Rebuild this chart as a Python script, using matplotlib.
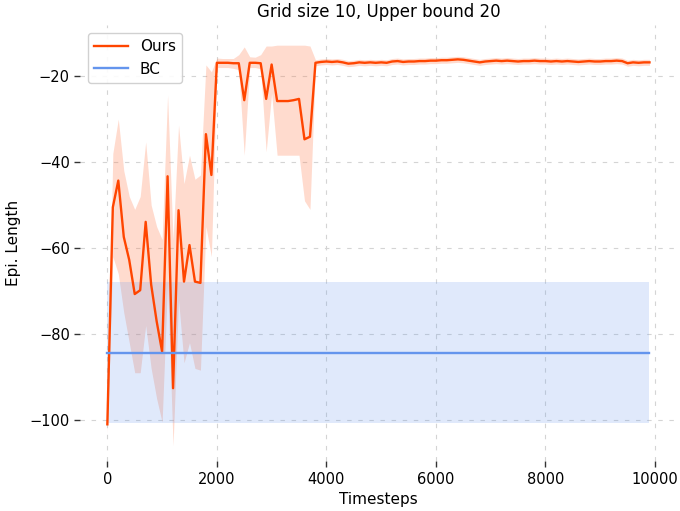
import matplotlib
matplotlib.use("Agg")
import matplotlib.pyplot as plt

# Ours: one record every 100 timesteps, 0 .. 9900
steps = list(range(0, 10000, 100))

ours_mean = [
    -101.0, -50.5, -44.3, -57.4, -62.8, -70.7, -69.8, -53.9, -68.5, -77.0,
    -84.1, -43.3, -92.6, -51.2, -67.8, -59.3, -67.8, -68.1, -33.5, -43.0,
    -16.9, -16.9, -16.9, -17.0, -17.0, -25.6, -16.9, -16.9, -17.0, -25.3,
    -17.3, -25.8, -25.8, -25.8, -25.6, -25.3, -34.7, -34.1, -16.9, -16.7,
    -16.6, -16.7, -16.6, -16.8, -17.1, -17.0, -16.8, -16.9, -16.8, -16.9,
    -16.8, -16.9, -16.6, -16.5, -16.7, -16.6, -16.6, -16.5, -16.5, -16.4,
    -16.4, -16.3, -16.3, -16.2, -16.1, -16.2, -16.4, -16.6, -16.8, -16.6,
    -16.5, -16.4, -16.5, -16.4, -16.5, -16.6, -16.5, -16.5, -16.4, -16.5,
    -16.5, -16.6, -16.5, -16.6, -16.5, -16.6, -16.7, -16.6, -16.5, -16.6,
    -16.6, -16.5, -16.5, -16.4, -16.5, -17.0, -16.8, -16.9, -16.8, -16.8,
]

# shaded range for the first 38 records (0 .. 3700)
early_hi = [
    -99.0, -38.0, -30.0, -42.0, -48.0, -51.0, -48.0, -35.3, -50.0, -55.0,
    -58.0, -24.4, -58.0, -31.4, -45.0, -38.4, -44.0, -43.0, -17.4, -19.0,
    -15.8, -15.9, -15.9, -15.9, -15.0, -13.2, -15.5, -15.6, -15.0, -13.0,
    -13.0, -12.8, -12.8, -12.8, -12.8, -12.8, -12.8, -13.0,
]
early_lo = [
    -103.0, -62.0, -66.0, -75.0, -82.0, -89.0, -89.0, -78.0, -88.0, -95.0,
    -100.5, -68.0, -106.0, -72.0, -86.7, -82.0, -88.0, -88.4, -55.0, -62.0,
    -18.0, -18.0, -18.0, -18.2, -18.5, -38.4, -18.0, -18.0, -18.3, -37.6,
    -24.0, -38.4, -38.4, -38.4, -38.4, -38.4, -49.0, -51.0,
]
late_halfwidth = 0.7

bc_steps = [0, 9900]
bc_mean = [-84.3, -84.3]
bc_hi = [-67.9, -67.9]
bc_lo = [-100.7, -100.7]

n_early = len(early_hi)
ours_hi = early_hi + [m + late_halfwidth for m in ours_mean[n_early:]]
ours_lo = early_lo + [m - late_halfwidth for m in ours_mean[n_early:]]

fig = plt.figure(figsize=(6.8, 5.11), dpi=100)
ax = fig.add_axes([0.118, 0.0973, 0.877, 0.853])

ax.fill_between(steps, ours_lo, ours_hi, color="#FF7F50", alpha=0.28, lw=0)
ax.plot(steps, ours_mean, color="#FF4500", lw=1.7, label="Ours")
ax.fill_between(bc_steps, bc_lo, bc_hi, color="#6495ED", alpha=0.2, lw=0)
ax.plot(bc_steps, bc_mean, color="#6495ED", lw=1.7, label="BC")

ax.set_xticks([0, 2000, 4000, 6000, 8000, 10000])
ax.set_yticks([-100, -80, -60, -40, -20])
ax.set_ylim(-109.6, -8.2)
ax.grid(True, ls=(0, (4, 6)), color="#d4d4d4", lw=0.8)
ax.set_axisbelow(True)
for sp in ax.spines.values():
    sp.set_visible(False)
ax.tick_params(length=4, width=1, color="#333333", labelsize=10.5)

ax.set_xlabel("Timesteps", fontsize=11, labelpad=4)
ax.set_ylabel("Epi. Length", fontsize=11, labelpad=6)
ax.set_title("Grid size 10, Upper bound 20", fontsize=12, pad=6)
ax.legend(loc="upper left", fontsize=11, handlelength=2.2, framealpha=0.9)

fig.savefig("out.png", dpi=100)
